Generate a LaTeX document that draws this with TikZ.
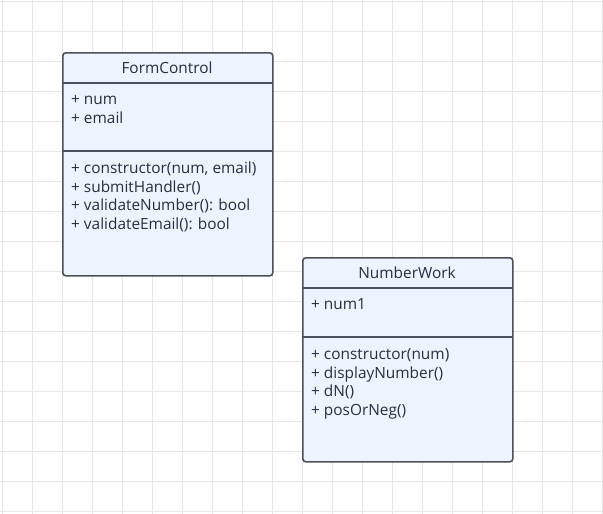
\documentclass[tikz,border=0pt]{standalone}
\usepackage{fontspec}
\setmainfont{Open Sans}
\definecolor{gridgray}{HTML}{E6E6E6}
\definecolor{boxline}{HTML}{4A505C}
\definecolor{boxfill}{HTML}{EDF4FF}
\definecolor{textgray}{HTML}{2A2E36}
\tikzset{
  classbox/.style={draw=boxline, fill=boxfill, line width=1.6pt, rounded corners=3pt, anchor=north west, inner sep=0pt},
  divider/.style={draw=boxline, line width=1.6pt},
  member/.style={anchor=west, inner sep=0pt, text=textgray, font=\fontsize{15.4}{18}\selectfont, text height=13pt, text depth=3pt},
  classname/.style={member, anchor=center}
}
\begin{document}
\begin{tikzpicture}[x=1pt,y=-1pt]
\useasboundingbox (0,0) rectangle (603,514);
\fill[white] (0,0) rectangle (603,514);
\foreach \gx in {2.5,32.5,...,602.5}
  \draw[gridgray, line width=1pt] (\gx,0) -- (\gx,514);
\foreach \gy in {1.5,31.5,...,511.5}
  \draw[gridgray, line width=1pt] (0,\gy) -- (603,\gy);

\node[classbox, minimum width=210pt, minimum height=223pt] (formcontrol) at (62,52) {};
\draw[divider] (62,83) -- (272,83);
\draw[divider] (62,151) -- (272,151);
\node[classname] (fc-name) at (167,68.5) {FormControl};
\node[member] (fc-num) at (71,99.5) {+ num};
\node[member] (fc-email) at (71,118.5) {+ email};
\node[member] (fc-ctor) at (71,168) {+ constructor(num, email)};
\node[member] (fc-submit) at (71,187) {+ submitHandler()};
\node[member] (fc-valnum) at (71,205.5) {+ validateNumber(): bool};
\node[member] (fc-valemail) at (71,224.5) {+ validateEmail(): bool};

\node[classbox, minimum width=210pt, minimum height=204pt] (numberwork) at (302,257) {};
\draw[divider] (302,288) -- (512,288);
\draw[divider] (302,337) -- (512,337);
\node[classname] (nw-name) at (407,273.5) {NumberWork};
\node[member] (nw-num) at (311,304.5) {+ num1};
\node[member] (nw-ctor) at (311,354.5) {+ constructor(num)};
\node[member] (nw-display) at (311,373) {+ displayNumber()};
\node[member] (nw-dn) at (311,391.5) {+ dN()};
\node[member] (nw-sign) at (311,410.5) {+ posOrNeg()};
\end{tikzpicture}
\end{document}
